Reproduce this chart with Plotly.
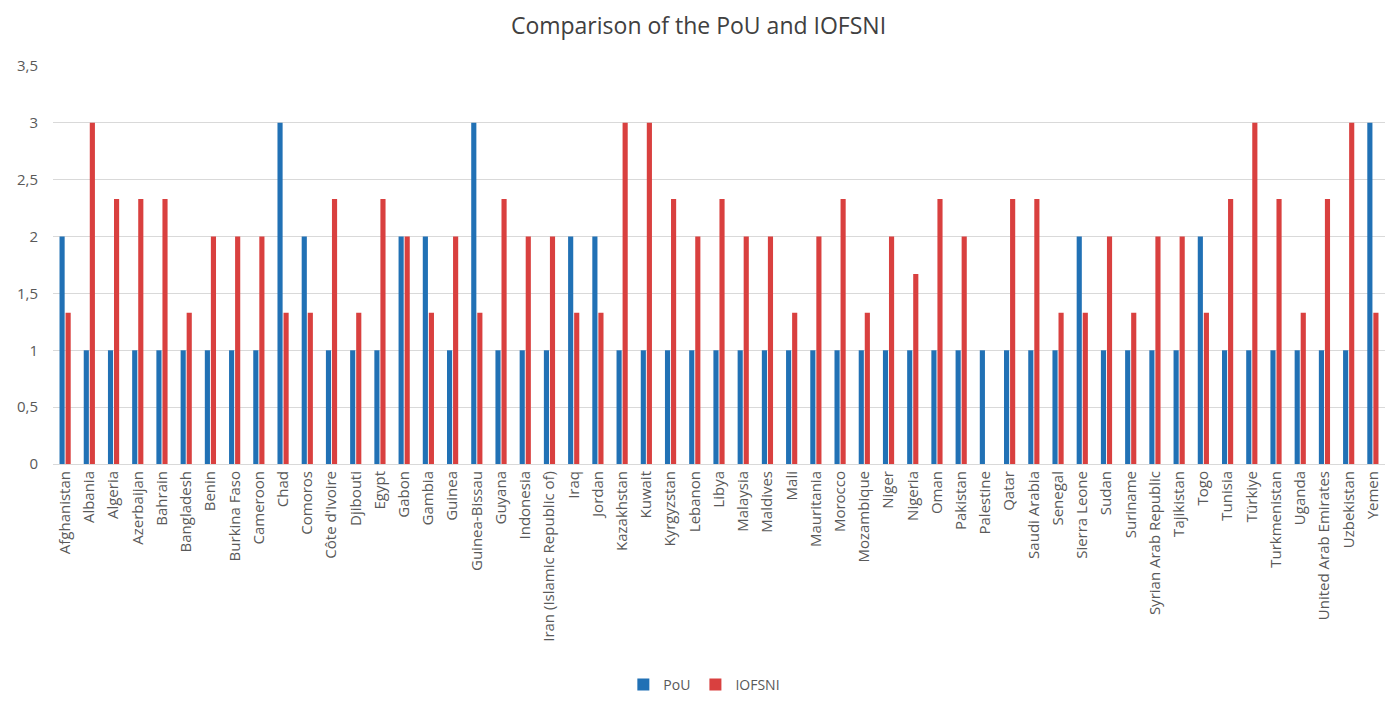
import plotly.graph_objects as go

countries = [
    "Afghanistan", "Albania", "Algeria", "Azerbaijan", "Bahrain", "Bangladesh",
    "Benin", "Burkina Faso", "Cameroon", "Chad", "Comoros", "Côte d'Ivoire",
    "Djibouti", "Egypt", "Gabon", "Gambia", "Guinea", "Guinea-Bissau", "Guyana",
    "Indonesia", "Iran (Islamic Republic of)", "Iraq", "Jordan", "Kazakhstan",
    "Kuwait", "Kyrgyzstan", "Lebanon", "Libya", "Malaysia", "Maldives", "Mali",
    "Mauritania", "Morocco", "Mozambique", "Niger", "Nigeria", "Oman", "Pakistan",
    "Palestine", "Qatar", "Saudi Arabia", "Senegal", "Sierra Leone", "Sudan",
    "Suriname", "Syrian Arab Republic", "Tajikistan", "Togo", "Tunisia", "Türkiye",
    "Turkmenistan", "Uganda", "United Arab Emirates", "Uzbekistan", "Yemen",
]

pou = [
    2, 1, 1, 1, 1, 1,
    1, 1, 1, 3, 2, 1,
    1, 1, 2, 2, 1, 3, 1,
    1, 1, 2, 2, 1,
    1, 1, 1, 1, 1, 1, 1,
    1, 1, 1, 1, 1, 1, 1,
    1, 1, 1, 1, 2, 1,
    1, 1, 1, 2, 1, 1,
    1, 1, 1, 1, 3,
]

iofsni = [
    1.33, 3, 2.33, 2.33, 2.33, 1.33,
    2, 2, 2, 1.33, 1.33, 2.33,
    1.33, 2.33, 2, 1.33, 2, 1.33, 2.33,
    2, 2, 1.33, 1.33, 3,
    3, 2.33, 2, 2.33, 2, 2, 1.33,
    2, 2.33, 1.33, 2, 1.67, 2.33, 2,
    None, 2.33, 2.33, 1.33, 1.33, 2,
    1.33, 2, 2, 1.33, 2.33, 3,
    2.33, 1.33, 2.33, 3, 1.33,
]

y_ticks = [0, 0.5, 1, 1.5, 2, 2.5, 3, 3.5]

text_color = "#595959"
grid_color = "#d9d9d9"

fig = go.Figure()
fig.add_trace(go.Bar(
    name="PoU", x=countries, y=pou,
    marker=dict(color="#2171b5", line=dict(width=0)),
))
fig.add_trace(go.Bar(
    name="IOFSNI", x=countries, y=iofsni,
    marker=dict(color="#d9403f", line=dict(width=0)),
))

fig.update_layout(
    width=1397, height=713,
    barmode="group", bargap=0.5, bargroupgap=0.15,
    separators=",.",
    paper_bgcolor="white", plot_bgcolor="white",
    margin=dict(l=53, r=12, t=66, b=241),
    font=dict(family="Open Sans, sans-serif", color=text_color, size=15),
    title=dict(
        text="Comparison of the PoU and IOFSNI",
        x=0.5, xanchor="center", y=1 - 26 / 713, yanchor="middle",
        yref="container",
        font=dict(size=23, color="#404040"),
    ),
    legend=dict(
        orientation="h", x=0.489, xanchor="center",
        y=-0.555, yanchor="middle",
        font=dict(size=14, color=text_color),
        itemwidth=30,
    ),
    xaxis=dict(
        tickangle=-90, tickfont=dict(size=15, color=text_color),
        showline=True, linecolor=grid_color, linewidth=1,
        ticks="", showgrid=False,
    ),
    yaxis=dict(
        range=[0, 3.5], tickvals=y_ticks,
        tickformat=".1~f",
        showgrid=True, gridcolor=grid_color, gridwidth=1,
        zeroline=True, zerolinecolor=grid_color, zerolinewidth=1,
        tickfont=dict(size=15, color=text_color),
        ticks="", ticklen=0, ticklabelstandoff=14,
    ),
)

fig.write_html("out.html")
